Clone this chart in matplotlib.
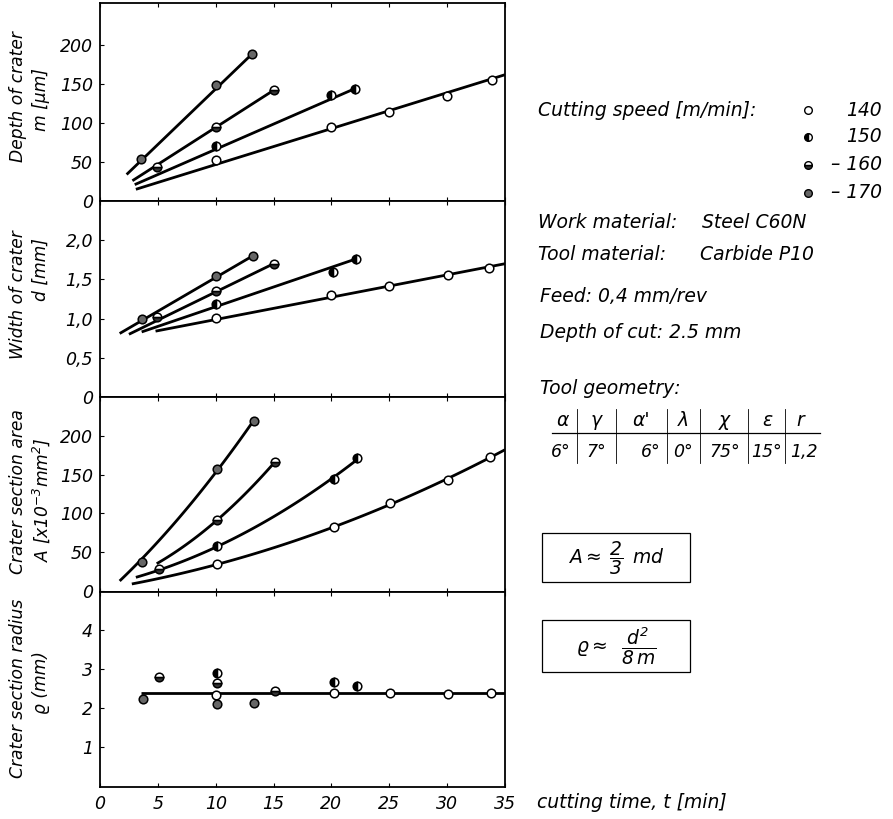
import matplotlib
matplotlib.use('Agg')
import matplotlib.pyplot as plt
import numpy as np
from matplotlib.patches import Rectangle

plt.rcParams['font.family'] = ['DejaVu Sans']
plt.rcParams['font.style'] = 'italic'
plt.rcParams['mathtext.fontset'] = 'dejavusans'

speeds = [140, 150, 160, 170]
speed_labels = ['140', '150', '– 160', '– 170']
x_ticks = [0, 5, 10, 15, 20, 25, 30, 35]

# ---- Panel 1: depth of crater m [um]
m_t = {140: [10, 20, 25, 30, 33.9], 150: [10, 20, 22], 160: [4.9, 10, 15], 170: [3.5, 10, 13.1]}
m_v = {140: [52, 94.5, 114, 135, 155.5], 150: [70, 136, 144], 160: [44, 94.5, 142], 170: [54, 149, 188]}
m_line_t = {140: [3.1, 35], 150: [3.0, 22], 160: [2.8, 15], 170: [2.3, 13.1]}
m_line_v = {140: [15, 162], 150: [21, 144], 160: [26, 142], 170: [34, 188]}

# ---- Panel 2: width of crater d [mm]
d_t = {140: [10, 20, 25, 30.1, 33.6], 150: [10, 20.1, 22.1], 160: [4.9, 10, 15], 170: [3.6, 10, 13.2]}
d_v = {140: [1.01, 1.30, 1.41, 1.55, 1.64], 150: [1.19, 1.59, 1.76], 160: [1.02, 1.35, 1.70], 170: [0.99, 1.54, 1.80]}
d_line_t = {140: [4.8, 35], 150: [3.6, 22.1], 160: [2.5, 15], 170: [1.7, 13.2]}
d_line_v = {140: [0.84, 1.70], 150: [0.83, 1.76], 160: [0.80, 1.70], 170: [0.81, 1.80]}

# ---- Panel 3: crater section area A [x10^-3 mm^2]
a_t = {140: [10.1, 20.2, 25.1, 30.1, 33.7], 150: [10.1, 20.2, 22.2], 160: [5.1, 10.1, 15.1], 170: [3.6, 10.1, 13.3]}
a_v = {140: [34.5, 82, 113, 143, 172], 150: [58, 144, 171], 160: [28, 91, 166], 170: [37.5, 157, 219]}
a_curve_t = {140: [2.75, 10.1, 20.2, 25.1, 30.1, 35], 150: [3.1, 10.1, 20.2, 22.2],
             160: [4.9, 10.1, 15.1], 170: [1.7, 3.6, 10.1, 13.3]}
a_curve_v = {140: [8.6, 34.5, 82, 113, 143, 183], 150: [17, 58, 144, 171],
             160: [35, 91, 166], 170: [15, 37.5, 157, 219]}

# ---- Panel 4: crater section radius rho [mm]
r_t = {140: [10, 20.2, 25.1, 30.1, 33.8], 150: [10.1, 20.2, 22.2], 160: [5.1, 10.1, 15.1], 170: [3.7, 10.1, 13.3]}
r_v = {140: [2.33, 2.38, 2.38, 2.36, 2.38], 150: [2.89, 2.67, 2.56], 160: [2.80, 2.63, 2.44], 170: [2.22, 2.10, 2.12]}
r_line_t = [3.5, 35]
r_line_v = [2.38, 2.38]

styles = {
    140: dict(marker='o', mfc='white', mec='black'),
    150: dict(marker='o', fillstyle='left', mfc='black', mfcalt='white', mec='black'),
    160: dict(marker='o', fillstyle='bottom', mfc='#333333', mfcalt='white', mec='black'),
    170: dict(marker='o', mfc='#666666', mec='black'),
}

W, H = 893, 819
fig = plt.figure(figsize=(W / 100, H / 100), dpi=100)

def px_ax(top, bottom, left=100, right=505):
    return fig.add_axes([left / W, 1 - bottom / H, (right - left) / W, (bottom - top) / H])

ax1 = px_ax(3, 201)
ax2 = px_ax(201, 397)
ax3 = px_ax(397, 592)
ax4 = px_ax(592, 787)
axes = [ax1, ax2, ax3, ax4]

LW = 2.0
MS = 6.2
MEW = 1.1
for s in speeds:
    ax1.plot(m_line_t[s], m_line_v[s], color='black', lw=LW, solid_capstyle='butt', zorder=2)
    ax1.plot(m_t[s], m_v[s], ls='none', ms=MS, mew=MEW, zorder=3, **styles[s])
    ax2.plot(d_line_t[s], d_line_v[s], color='black', lw=LW, solid_capstyle='butt', zorder=2)
    ax2.plot(d_t[s], d_v[s], ls='none', ms=MS, mew=MEW, zorder=3, **styles[s])
    coef = np.polyfit(a_curve_t[s], a_curve_v[s], 2)
    tt = np.linspace(a_curve_t[s][0], a_curve_t[s][-1], 100)
    ax3.plot(tt, np.polyval(coef, tt), color='black', lw=LW, solid_capstyle='butt', zorder=2)
    ax3.plot(a_t[s], a_v[s], ls='none', ms=MS, mew=MEW, zorder=3, **styles[s])
    ax4.plot(r_t[s], r_v[s], ls='none', ms=MS, mew=MEW, zorder=3, **styles[s])
ax4.plot(r_line_t, r_line_v, color='black', lw=LW, solid_capstyle='butt', zorder=2)

ax1.set_ylim(0, 254)
ax2.set_ylim(0, 2.5)
ax3.set_ylim(-1.5, 250)
ax4.set_ylim(-0.03, 4.98)

ax1.set_yticks([0, 50, 100, 150, 200], ['0', '50', '100', '150', '200'])
ax2.set_yticks([0, 0.5, 1.0, 1.5, 2.0], ['0', '0,5', '1,0', '1,5', '2,0'])
ax3.set_yticks([0, 50, 100, 150, 200], ['0', '50', '100', '150', '200'])
ax4.set_yticks([1, 2, 3, 4], ['1', '2', '3', '4'])

for i, ax in enumerate(axes):
    ax.set_xlim(0, 35)
    ax.set_xticks(x_ticks)
    ax.tick_params(direction='in', length=3, width=0.8, top=True, bottom=True, right=False,
                   labelsize=12.5, pad=5)
    ax.tick_params(axis='x', labelbottom=(i == 3), pad=6)
    for sp in ax.spines.values():
        sp.set_linewidth(1.3)
    for lab in ax.get_yticklabels() + ax.get_xticklabels():
        lab.set_fontstyle('italic')
ax4.set_xticklabels([str(t) for t in x_ticks])

# overlay in pixel coordinates for annotations
ov = fig.add_axes([0, 0, 1, 1], zorder=10)
ov.set_xlim(0, W)
ov.set_ylim(H, 0)
ov.axis('off')

FS = 13.5
FSL = 12.3
# y-axis labels
ylabels = [('Depth of crater', 'm [μm]', 97, 100),
           ('Width of crater', 'd [mm]', 295, 270),
           ('Crater section area', 'A [x10$^{-3}$mm$^{2}$]', 492, 500),
           ('Crater section radius', 'ϱ (mm)', 688, 683)]
for l1, l2, y1, y2 in ylabels:
    ov.text(18, y1, l1, rotation=90, ha='center', va='center', fontsize=FSL)
    ov.text(41, y2, l2, rotation=90, ha='center', va='center', fontsize=FSL)

ov.text(537, 802, 'cutting time, t [min]', ha='left', va='center', fontsize=FS)

# legend
ov.text(538, 110, 'Cutting speed [m/min]:', ha='left', va='center', fontsize=FS)
leg_y = [110, 137, 165, 193]
for s, lab, y in zip(speeds, speed_labels, leg_y):
    ov.plot([808], [y], ls='none', ms=5.5, mew=1.0, **styles[s])
    ov.text(882, y, lab, ha='right', va='center', fontsize=FS)

ov.text(538, 223, 'Work material:', ha='left', va='center', fontsize=FS)
ov.text(702, 223, 'Steel C60N', ha='left', va='center', fontsize=FS)
ov.text(538, 255, 'Tool material:', ha='left', va='center', fontsize=FS)
ov.text(700, 255, 'Carbide P10', ha='left', va='center', fontsize=FS)
ov.text(540, 297, 'Feed: 0,4 mm/rev', ha='left', va='center', fontsize=FS)
ov.text(540, 332, 'Depth of cut: 2.5 mm', ha='left', va='center', fontsize=FS)
ov.text(540, 389, 'Tool geometry:', ha='left', va='center', fontsize=FS)

# geometry table
hdr = ['α', 'γ', "α'", 'λ', 'χ', 'ε', 'r']
vals = ['6°', '7°', '6°', '0°', '75°', '15°', '1,2']
hdr_x = [563, 596, 641, 683, 724, 767, 800]
val_x = [561, 596, 651, 683, 725, 767, 804]
for h, x in zip(hdr, hdr_x):
    ov.text(x, 420, h, ha='center', va='center', fontsize=FS)
for v, x in zip(vals, val_x):
    ov.text(x, 452, v, ha='center', va='center', fontsize=12.5)
ov.plot([552, 820], [433, 433], color='black', lw=0.9)
for x in [577, 616, 667, 700, 748, 785]:
    ov.plot([x, x], [409, 463], color='black', lw=0.6)

# formula boxes
ov.add_patch(Rectangle((542, 533), 148, 49, fill=False, lw=0.9, ec='black'))
ov.text(616, 558, r'$A \approx \;\dfrac{2}{3}\;\, md$', ha='center', va='center', fontsize=FS)
ov.add_patch(Rectangle((542, 620), 148, 52, fill=False, lw=0.9, ec='black'))
ov.text(616, 646, r'$\varrho \approx \;\; \dfrac{d^2}{8\,m}$', ha='center', va='center', fontsize=FS)

fig.savefig('out.png', dpi=100)
